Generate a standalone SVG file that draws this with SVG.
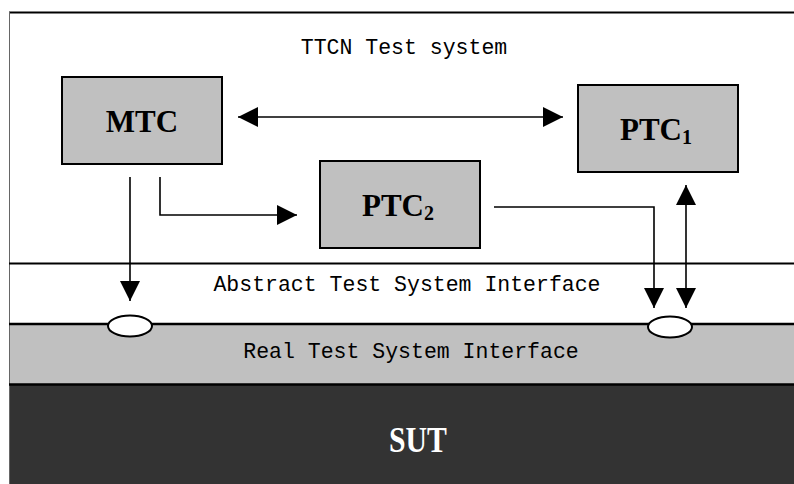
<svg xmlns="http://www.w3.org/2000/svg" width="794" height="484" viewBox="0 0 794 484">
<style>
.box{fill:#c0c0c0;stroke:#000;stroke-width:2}
.lbl{font-family:"Liberation Serif","Times New Roman",serif;font-weight:bold;font-size:31px;fill:#000;text-anchor:middle}
.mono{font-family:"Courier New","Liberation Mono",monospace;font-size:21.5px;fill:#000;text-anchor:middle}
.ln{fill:none;stroke:#000;stroke-width:1.6}
</style>
<defs>
<marker id="ah" viewBox="0 0 20 20" refX="20" refY="10" markerWidth="20" markerHeight="20" markerUnits="userSpaceOnUse" orient="auto-start-reverse">
<path d="M0,0 L20,10 L0,20 Z" fill="#000"/>
</marker>
</defs>
<rect x="0" y="0" width="794" height="484" fill="#fff"/>
<g id="frame">
<rect x="9" y="324" width="785" height="60" fill="#c0c0c0"/>
<rect x="9" y="384" width="785" height="100" fill="#333"/>
<line x1="9" y1="12.5" x2="794" y2="12.5" stroke="#000" stroke-width="2"/>
<line x1="9.5" y1="12" x2="9.5" y2="484" stroke="#666" stroke-width="1"/>
<line x1="9" y1="263.5" x2="794" y2="263.5" stroke="#000" stroke-width="2"/>
<line x1="9" y1="324" x2="794" y2="324" stroke="#000" stroke-width="2.5"/>
<line x1="9" y1="384.5" x2="794" y2="384.5" stroke="#000" stroke-width="2.5"/>
<text class="mono" x="404" y="54">TTCN Test system</text>
<text class="mono" x="407" y="291">Abstract Test System Interface</text>
<text class="mono" x="411" y="358">Real Test System Interface</text>
</g>
<g id="SUT">
<text transform="translate(418,452) scale(0.85,1)" x="0" y="0" font-family="'Liberation Serif','Times New Roman',serif" font-weight="bold" font-size="35" fill="#fff" text-anchor="middle">SUT</text>
</g>
<g id="MTC">
<rect class="box" x="62" y="77" width="160" height="87"/>
<text class="lbl" x="142" y="132" font-size="33">MTC</text>
</g>
<g id="PTC1">
<rect class="box" x="578" y="85" width="160" height="87"/>
<text class="lbl" x="656" y="140">PTC<tspan font-size="20" dy="4">1</tspan></text>
</g>
<g id="PTC2">
<rect class="box" x="320" y="161" width="160" height="87"/>
<text class="lbl" x="398" y="216">PTC<tspan font-size="20" dy="4">2</tspan></text>
</g>
<g id="port1">
<ellipse cx="130" cy="326" rx="22" ry="10.5" fill="#fff" stroke="#000" stroke-width="2"/>
</g>
<g id="port2">
<ellipse cx="670" cy="327" rx="22" ry="10.5" fill="#fff" stroke="#000" stroke-width="2"/>
</g>
<g id="connectors">
<line class="ln" x1="238" y1="117" x2="563" y2="117" stroke="#404040" marker-start="url(#ah)" marker-end="url(#ah)"/>
<line class="ln" x1="130" y1="177" x2="130" y2="301" marker-end="url(#ah)"/>
<polyline class="ln" points="160,177 160,215 297,215" marker-end="url(#ah)"/>
<polyline class="ln" points="494,207 654,207 654,308" marker-end="url(#ah)"/>
<line class="ln" x1="686" y1="185" x2="686" y2="308" marker-start="url(#ah)" marker-end="url(#ah)"/>
</g>
</svg>
